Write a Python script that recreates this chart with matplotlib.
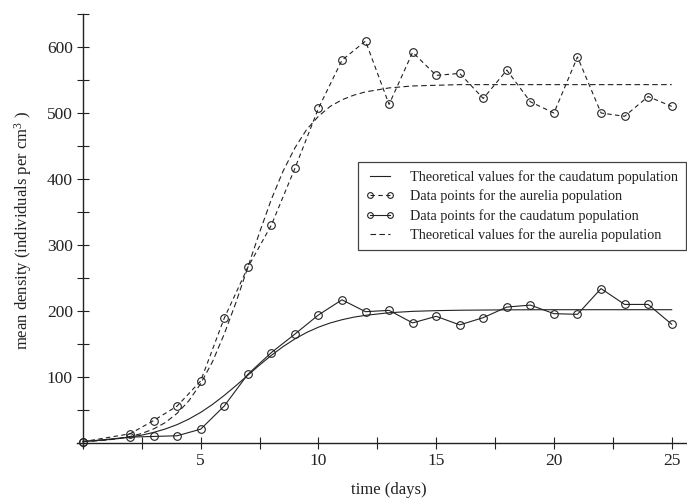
import matplotlib
matplotlib.use('Agg')
import matplotlib.pyplot as plt
from matplotlib.ticker import MultipleLocator

plt.rcParams['font.family'] = ['Liberation Serif', 'DejaVu Serif']
plt.rcParams['mathtext.fontset'] = 'custom'
plt.rcParams['mathtext.rm'] = 'Liberation Serif'
plt.rcParams['mathtext.it'] = 'Liberation Serif:italic'

# data points (days)
days = [0, 2, 3, 4, 5, 6, 7, 8, 9, 10, 11, 12, 13, 14, 15, 16, 17, 18, 19, 20, 21, 22, 23, 24, 25]
aurelia = [2, 14, 34, 56, 94, 189, 266, 330, 416, 507, 580, 609, 513, 592, 557, 560, 522, 565, 517, 500, 585, 500, 495, 525, 510]
caudatum = [2, 9, 10, 11, 21, 56, 104, 137, 165, 194, 217, 199, 201, 182, 192, 179, 190, 206, 209, 196, 195, 234, 210, 210, 180]

# theoretical curves
t_theo = [0, 0.5, 1, 1.5, 2, 2.5, 3, 3.5, 4, 4.5, 5, 5.5, 6, 6.5, 7, 7.5, 8, 8.5, 9, 9.5,
          10, 10.5, 11, 11.5, 12, 13, 14, 15, 16, 18, 20, 25]
aurelia_theo = [2.1, 3.1, 4.5, 6.7, 9.9, 14.5, 21.3, 31, 45, 64, 90, 123, 165, 213, 266, 319,
                369, 412, 447, 475, 495, 510, 520, 527, 532, 538, 541, 542, 543, 543, 543, 543]
caudatum_theo = [2.7, 3.6, 4.9, 6.7, 9, 12, 16.1, 21.3, 27.9, 36.3, 46.4, 58.4, 72.1, 87, 102.6,
                 118.1, 132.8, 146.1, 157.7, 167.5, 175.5, 181.9, 186.8, 190.7, 193.5, 197.4,
                 199.5, 200.6, 201.2, 201.8, 202, 202]

ink = '#222222'

fig = plt.figure(figsize=(6.87, 4.98), dpi=100)
ax = fig.add_axes([77/687, 51/498, 610/687, 433/498])

l1, = ax.plot(t_theo, caudatum_theo, '-', color=ink, lw=0.8,
              label='Theoretical values for the caudatum population')
l2, = ax.plot(days, aurelia, '--', color=ink, lw=0.8, dashes=(4, 3), marker='o', ms=5.5,
              mfc='none', mec=ink, mew=0.8, label='Data points for the aurelia population')
l3, = ax.plot(days, caudatum, '-', color=ink, lw=0.8, marker='o', ms=5.5,
              mfc='none', mec=ink, mew=0.8, label='Data points for the caudatum population')
l4, = ax.plot(t_theo, aurelia_theo, '--', color=ink, lw=0.8, dashes=(5, 3),
              label='Theoretical values for the aurelia population')

ax.set_xlim(-0.25, 25.65)
ax.set_ylim(-6, 650)

for s in ['top', 'right']:
  ax.spines[s].set_visible(False)
ax.spines['left'].set_position(('data', 0))
ax.spines['bottom'].set_position(('data', 0))
for s in ['left', 'bottom']:
  ax.spines[s].set_color(ink)
  ax.spines[s].set_linewidth(1.0)

ax.xaxis.set_minor_locator(MultipleLocator(2.5))
ax.yaxis.set_minor_locator(MultipleLocator(50))
ax.set_xticks([5, 10, 15, 20, 25])
ax.set_yticks([100, 200, 300, 400, 500, 600])
ax.tick_params(which='both', direction='inout', length=8.5, width=0.8, color=ink,
               labelcolor=ink, labelsize=12.5, pad=3)

ax.set_xlabel('time (days)', fontsize=12, color=ink)
ax.set_ylabel('mean density (individuals per cm$^3$ )', fontsize=12, color=ink)
ax.xaxis.set_label_coords(0.511, -0.081)
ax.yaxis.set_label_coords(-0.07, 0.5)

leg = ax.legend(handles=[l1, l2, l3, l4], loc='upper right', bbox_to_anchor=(686/687, 1 - 162/498),
                bbox_transform=fig.transFigure, fontsize=10.3, frameon=True, fancybox=False,
                framealpha=1, borderpad=0.55, borderaxespad=0, handlelength=2.0, numpoints=2,
                markerscale=0.75, handletextpad=1.1, labelspacing=0.4, labelcolor=ink)
leg.get_frame().set_edgecolor('#444444')
leg.get_frame().set_linewidth(0.9)

fig.savefig('out.png', dpi=100)
